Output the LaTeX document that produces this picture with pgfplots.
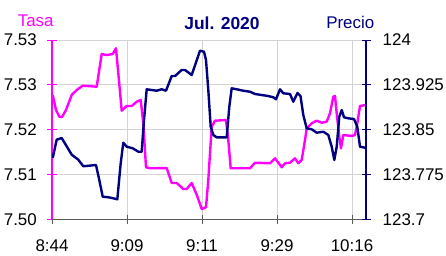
\documentclass[border=0pt]{standalone}
\usepackage{fontspec}
\setmainfont{Liberation Sans}
\usepackage{pgfplots}
\pgfplotsset{compat=1.18}
\definecolor{tasa}{HTML}{FF00FF}
\definecolor{precio}{HTML}{000080}
\definecolor{gridc}{HTML}{D3D3D3}
\definecolor{axisc}{HTML}{5A5A5A}

\pgfplotsset{common/.style={
  scale only axis, width=314bp, height=179.2bp,
  at={(52bp,36.8bp)}, anchor=south west,
  xmin=52, xmax=366,
  tick label style={font=\fontsize{17}{19}\selectfont},
  /pgf/number format/assume math mode=true,
  major tick length=9bp, tick align=center,
}}

\begin{document}
\begin{tikzpicture}
\useasboundingbox (0,0) rectangle (446bp,256bp);
\begin{axis}[common,
  axis x line*=bottom, axis y line*=left,
  ymin=7.50, ymax=7.534,
  ytick={7.5,7.5085,7.517,7.5255,7.534},
  yticklabels={7.50,7.51,7.52,7.53,7.53},
  xtick={52,127,202,277,352},
  xticklabels={8:44,9:09,9:11,9:29,10:16},
  grid=major, grid style={gridc, line width=0.8bp},
  x axis line style={-, axisc, line width=1.2bp},
  y axis line style={-, tasa, line width=1.2bp},
  xtick style={axisc, line width=1bp},
  ytick style={tasa, line width=1bp},
  yticklabel style={anchor=east, inner sep=0pt, xshift=-10.5bp},
  xticklabel style={anchor=north, inner sep=0pt, yshift=-15.5bp},
]
\addplot[tasa, line width=2.4bp, line join=round] table {
x y
52.7 7.52357
56 7.52072
59.3 7.51945
62 7.51939
66 7.52072
71.7 7.52357
76.7 7.52451
82.7 7.52533
96.7 7.52514
101.7 7.53134
106.7 7.53115
112.7 7.53134
116 7.53243
118.3 7.52768
121.7 7.52059
126.7 7.52148
131.7 7.52148
136.7 7.52229
140.7 7.52262
143.3 7.51820
146 7.50985
150 7.50966
166.7 7.50971
171.7 7.50687
176.7 7.50687
183.3 7.50573
186.7 7.50573
191.7 7.50687
196.7 7.50465
201.7 7.50194
206 7.50226
208.3 7.50744
211.7 7.51755
215 7.51869
226 7.51882
228.3 7.51503
230.7 7.50966
250 7.50966
255 7.51072
270 7.51061
275 7.51155
278.3 7.51072
281.7 7.50985
285 7.51061
290 7.51072
295 7.51155
298.3 7.51061
301.7 7.51123
305 7.51503
306.7 7.51725
311.7 7.51820
316.7 7.51869
321.7 7.51831
326.7 7.51850
330 7.52009
333.3 7.52324
335 7.52337
336.7 7.52009
339.3 7.51565
341 7.51345
343.3 7.51598
351.7 7.51579
355 7.51598
357.3 7.51820
360 7.52148
366 7.52167
};
\end{axis}
\begin{axis}[common,
  axis x line=none, axis y line*=right,
  ymin=123.7, ymax=124,
  ytick={123.7,123.775,123.85,123.925,124},
  yticklabels={123.7,123.775,123.85,123.925,124},
  y axis line style={-, precio, line width=1.2bp},
  ytick style={precio, line width=1bp},
  yticklabel style={anchor=west, inner sep=0pt, xshift=12bp},
]
\addplot[precio, line width=2.4bp, line join=round] table {
x y
52.7 123.8025
56.7 123.8331
61.7 123.8359
66.7 123.8220
71.7 123.8080
78.3 123.7996
83.3 123.7886
96 123.7907
99.3 123.7656
102.7 123.7377
108.3 123.7367
113.3 123.7350
117.3 123.7333
120.7 123.7936
123.3 123.8281
126.7 123.8214
132.7 123.8187
138.3 123.8130
141.7 123.8130
144 123.8661
146.7 123.9175
151.7 123.9163
156.7 123.9151
161.7 123.9175
166 123.9151
171.7 123.9397
175 123.9397
181.7 123.9498
185 123.9498
191.7 123.9414
200 123.9821
204 123.9804
206 123.9665
208.3 123.9163
210.7 123.8549
213.3 123.8410
216.7 123.8371
226.7 123.8371
229.3 123.8883
231.7 123.9191
236.7 123.9175
243.3 123.9151
250 123.9134
255 123.9096
261.7 123.9079
268.3 123.9062
273.3 123.9041
276 123.9007
280 123.9175
283.3 123.9108
290 123.9096
293.3 123.8967
297.5 123.9113
300.5 123.9062
303.3 123.8744
306.7 123.8522
311.7 123.8505
316.7 123.8448
323.3 123.8465
328.3 123.8410
331.7 123.8214
334.3 123.7991
336.7 123.8214
339.3 123.8716
341.7 123.8828
344 123.8706
348.3 123.8689
354 123.8677
357.3 123.8549
360 123.8214
365 123.8197
};
\end{axis}
\node[anchor=base, text=tasa, font=\fontsize{17}{19}\selectfont] at (35.7bp,229.3bp) {Tasa};
\node[anchor=base, text=precio, font=\bfseries\fontsize{17.5}{19}\selectfont] at (222bp,226bp) {Jul. 2020};
\node[anchor=base, text=precio, font=\fontsize{17}{19}\selectfont] at (350.3bp,227.7bp) {Precio};
\end{tikzpicture}
\end{document}
